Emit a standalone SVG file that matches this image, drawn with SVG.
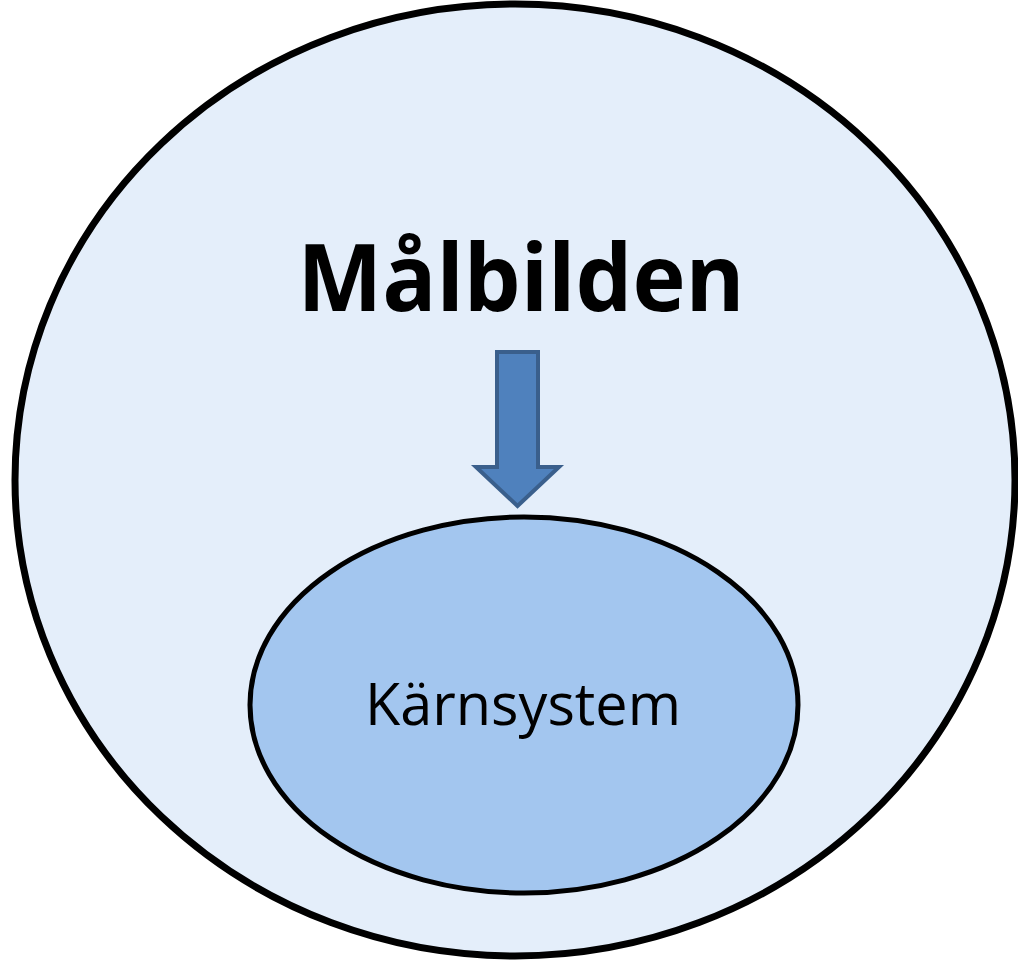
<svg xmlns="http://www.w3.org/2000/svg" width="1018" height="961" viewBox="0 0 1018 961">
<style>
.ring{stroke:#000;stroke-width:7}
.title{font-family:"Open Sans","Liberation Sans",sans-serif;font-weight:bold;font-size:94px;fill:#000}
.label{font-family:"Open Sans","Liberation Sans",sans-serif;font-size:58px;fill:#000}
</style>
<rect width="1018" height="961" fill="#fff"/>
<g id="outer">
<ellipse class="ring" cx="515" cy="480" rx="500" ry="476" fill="#e4eefa"/>
<text class="title" x="521" y="311" text-anchor="middle" textLength="447" lengthAdjust="spacingAndGlyphs">Målbilden</text>
</g>
<g id="connectors">
<path d="M497,352 L538,352 L538,467 L559,467 L517.5,506 L476,467 L497,467 Z" fill="#4f81bd" stroke="#3a5f8c" stroke-width="4" stroke-linejoin="miter"/>
</g>
<g id="inner">
<ellipse cx="524" cy="705" rx="274" ry="188" fill="#a3c6ef" stroke="#000" stroke-width="5"/>
<text class="label" x="523" y="725" text-anchor="middle" textLength="316" lengthAdjust="spacingAndGlyphs">Kärnsystem</text>
</g>
</svg>
